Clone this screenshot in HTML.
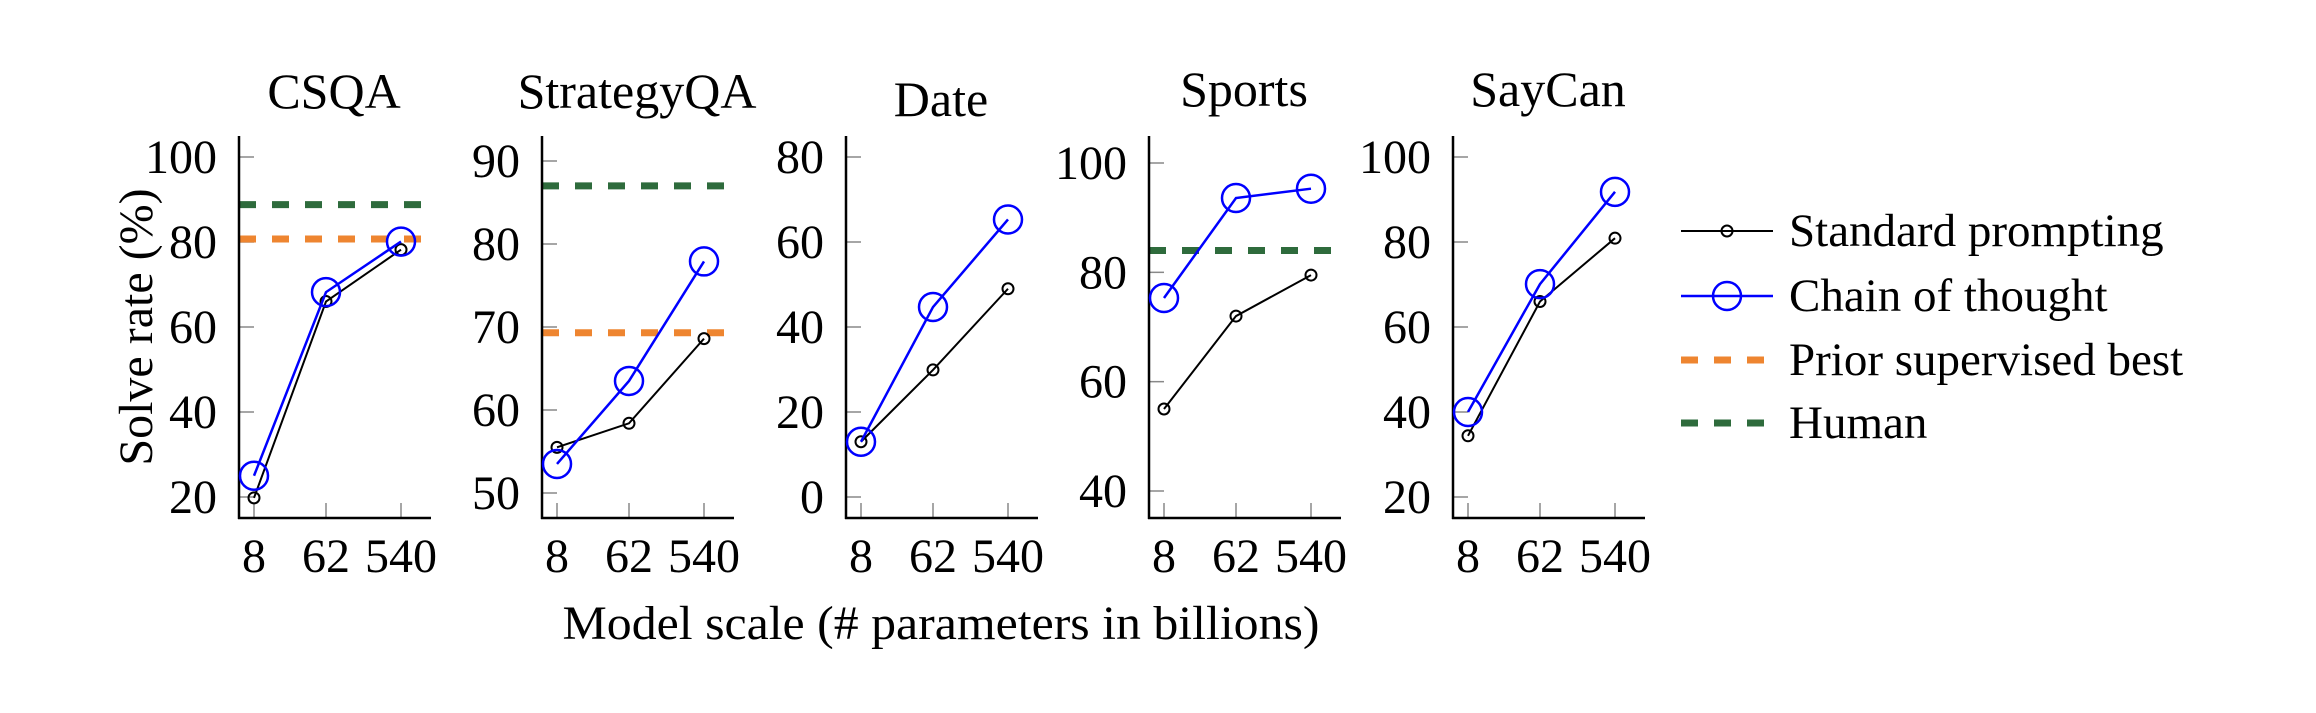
<!DOCTYPE html>
<html><head><meta charset="utf-8"><style>
html,body{margin:0;padding:0;background:#fff;}
svg, svg text{font-family:"Liberation Serif","Times New Roman",Times,serif !important;}
</style></head><body>
<svg id="chart" width="2316" height="708" viewBox="0 0 2316 708" xmlns="http://www.w3.org/2000/svg" font-family="Liberation Serif, Times New Roman, serif">
<text x="0" y="0" transform="translate(152,327) rotate(-90)" font-size="48" text-anchor="middle" font-family="Liberation Serif, serif">Solve rate (%)</text>
<text x="941" y="639" font-size="48" text-anchor="middle" textLength="757" lengthAdjust="spacingAndGlyphs" font-family="Liberation Serif, serif">Model scale (# parameters in billions)</text>
<g font-family="Liberation Serif, serif">
  <g>
    <line x1="1681" y1="231" x2="1773" y2="231" stroke="#000" stroke-width="2"/>
    <circle cx="1727" cy="231" r="5.5" fill="none" stroke="#000" stroke-width="2"/>
    <text x="1789" y="246" font-size="47">Standard prompting</text>
  </g>
  <g>
    <line x1="1681" y1="296" x2="1773" y2="296" stroke="#0000ff" stroke-width="2.5"/>
    <circle cx="1727" cy="296" r="14" fill="none" stroke="#0000ff" stroke-width="2.5"/>
    <text x="1789" y="311" font-size="47">Chain of thought</text>
  </g>
  <g>
    <line x1="1681" y1="360" x2="1773" y2="360" stroke="#ee8530" stroke-width="7" stroke-dasharray="17 16"/>
    <text x="1789" y="375" font-size="47">Prior supervised best</text>
  </g>
  <g>
    <line x1="1681" y1="423" x2="1773" y2="423" stroke="#2e6b3c" stroke-width="7" stroke-dasharray="17 16"/>
    <text x="1789" y="438" font-size="47">Human</text>
  </g>
</g>
<g id="panels"></g>
</svg>
<script>
const titles = ["CSQA","StrategyQA","Date","Sports","SayCan"];
const xLabels = ["8","62","540"];
const stdVals = [[19.8,66,78.2],[55.5,58.4,68.6],[13,29.9,49],[55,72,79.5],[34.4,66,80.9]];
const cotVals = [[25,68.2,80.1],[53.5,63.5,77.9],[13,44.7,65.3],[75.3,93.6,95.3],[40,70.1,91.8]];
const priorVals = [80.7,69.3,null,null,null];
const humanVals = [88.8,87,null,84,null];
const yTicks = [[20,40,60,80,100],[50,60,70,80,90],[0,20,40,60,80],[40,60,80,100],[20,40,60,80,100]];
const yMin = [20,50,0,40,20];
const yMax = [100,90,80,100,100];
const yTopPx = [157,161,157,163,157];
const yBotPx = [497,493,497,491,497];
const titleY = [108,108,116,106,106];

const NS="http://www.w3.org/2000/svg";
const root=document.getElementById('panels');
function mk(tag,attrs,parent){const e=document.createElementNS(NS,tag);for(const k in attrs)e.setAttribute(k,attrs[k]);parent.appendChild(e);return e;}
const axisX0=[239,542,846,1149,1453];
const xOff=[15,87,162];
const FF='Liberation Serif, serif';
titles.forEach((t,p)=>{
  const g=mk('g',{},root);
  
  
  const ax=axisX0[p];
  const y=v=>yBotPx[p]-(v-yMin[p])/(yMax[p]-yMin[p])*(yBotPx[p]-yTopPx[p]);
  const x=i=>ax+xOff[i];
  const tt=mk('text',{x:ax+95,y:titleY[p],'font-size':50,'text-anchor':'middle','font-family':FF},g);
  tt.textContent=t;
  
  
  yTicks[p].forEach(v=>{
    const tk=mk('line',{x1:ax,x2:ax+15,y1:y(v),y2:y(v),stroke:'#888','stroke-width':1.5},g);
    
    
    const lb=mk('text',{x:ax-22,y:y(v)+16,'font-size':48,'text-anchor':'end','font-family':FF},g);
    lb.textContent=v;
    
    
  });
  xLabels.forEach((l,i)=>{
    const tk=mk('line',{x1:x(i),x2:x(i),y1:503,y2:518,stroke:'#888','stroke-width':1.5},g);
    
    
    const lb=mk('text',{x:x(i),y:572,'font-size':48,'text-anchor':'middle','font-family':FF},g);
    lb.textContent=l;
    
    
  });
  const refs=[[humanVals[p],'#2e6b3c','human-line'],[priorVals[p],'#ee8530','prior-best-line']];
  refs.forEach(([v,c,n])=>{
    if(v===null)return;
    const l=mk('line',{x1:ax,x2:ax+183,y1:y(v),y2:y(v),stroke:c,'stroke-width':7,'stroke-dasharray':'17 16'},g);
    
    
  });
  const ya=mk('line',{x1:ax,x2:ax,y1:136,y2:519,stroke:'#000','stroke-width':2.5},g);
  
  
  const xa=mk('line',{x1:ax-1,x2:ax+192,y1:518,y2:518,stroke:'#000','stroke-width':2.5},g);
  
  
  const sl=mk('polyline',{points:stdVals[p].map((v,i)=>x(i)+','+y(v)).join(' '),fill:'none',stroke:'#000','stroke-width':2},g);
  
  
  stdVals[p].forEach((v,i)=>{
    const c=mk('circle',{cx:x(i),cy:y(v),r:5.5,fill:'none',stroke:'#000','stroke-width':2},g);
    
    
  });
  const cl=mk('polyline',{points:cotVals[p].map((v,i)=>x(i)+','+y(v)).join(' '),fill:'none',stroke:'#0000ff','stroke-width':2.5},g);
  
  
  cotVals[p].forEach((v,i)=>{
    const c=mk('circle',{cx:x(i),cy:y(v),r:14,fill:'none',stroke:'#0000ff','stroke-width':2.5},g);
    
    
  });
});
</script>
</body></html>
